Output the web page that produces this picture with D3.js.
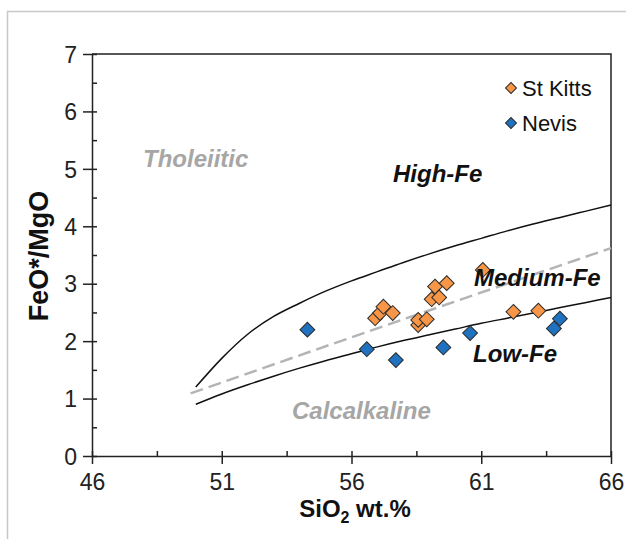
<!DOCTYPE html>
<html>
<head>
<meta charset="utf-8">
<script src="https://cdn.jsdelivr.net/npm/d3@7"></script>
<style>
  body { margin: 0; background: #fff; }
  svg { font-family: "Liberation Sans", Arial, sans-serif; }
</style>
</head>
<body>
<div id="chart"></div>
<script>
// data
var stKittsSiO2 = [56.91, 57.10, 57.23, 57.59, 58.57, 58.57, 58.90, 59.09, 59.22, 59.38, 59.67, 61.06, 62.24, 63.20];
var stKittsRatio = [2.40, 2.49, 2.60, 2.49, 2.28, 2.37, 2.38, 2.73, 2.95, 2.76, 3.01, 3.24, 2.51, 2.53];

var nevisSiO2 = [54.3, 56.59, 57.71, 59.54, 60.57, 63.80, 64.03];
var nevisRatio = [2.20, 1.86, 1.67, 1.89, 2.14, 2.22, 2.39];

// boundary curves
var curveSiO2 = [50, 51, 52, 53, 54, 55, 56, 57, 58, 59, 60, 61, 62, 63, 64, 65, 66];
var highFeBound = [1.2, 1.7, 2.12, 2.43, 2.66, 2.87, 3.05, 3.21, 3.37, 3.52, 3.66, 3.79, 3.92, 4.04, 4.15, 4.26, 4.37];
var lowFeBound = [0.9, 1.08, 1.24, 1.39, 1.53, 1.66, 1.78, 1.9, 2.01, 2.11, 2.21, 2.31, 2.4, 2.49, 2.58, 2.67, 2.76];
var thCaSiO2 = [49.8, 58, 66];
var thCaBound = [1.09, 2.38, 3.62];

var xTicks = [46, 51, 56, 61, 66];
var yTicks = [0, 1, 2, 3, 4, 5, 6, 7];

var svgWidth = 626;
var svgHeight = 539;

var svg = d3.select("#chart")
  .append("svg")
  .attr("width", svgWidth)
  .attr("height", svgHeight);

// outer frame (runs off the page at right and bottom)
svg.append("rect")
  .attr("x", 7.5)
  .attr("y", 11.5)
  .attr("width", 700)
  .attr("height", 600)
  .attr("fill", "none")
  .attr("stroke", "#c8c8c8")
  .attr("stroke-width", 1.5);

var x = d3.scaleLinear().domain([46, 66]).range([92, 611]);
var y = d3.scaleLinear().domain([0, 7]).range([456, 54]);

// minor / inner ticks
var xMinor = d3.range(46, 66.01, 2.5);
var yMinor = d3.range(0, 7.01, 0.5);

svg.append("g")
  .attr("transform", `translate(0, ${y(0)})`)
  .call(d3.axisTop(x).tickValues(xMinor).tickSize(5).tickFormat("").tickSizeOuter(0))
  .call(g => g.select(".domain").remove())
  .selectAll("line").attr("stroke", "#222").attr("stroke-width", 1.5);

svg.append("g")
  .attr("transform", `translate(${x(46)}, 0)`)
  .call(d3.axisRight(y).tickValues(yMinor).tickSize(5).tickFormat("").tickSizeOuter(0))
  .call(g => g.select(".domain").remove())
  .selectAll("line").attr("stroke", "#222").attr("stroke-width", 1.5);

// main axes
var xAxis = svg.append("g")
  .attr("transform", `translate(0, ${y(0)})`)
  .call(d3.axisBottom(x).tickValues(xTicks).tickFormat(d3.format("d"))
    .tickSize(8).tickSizeOuter(0).tickPadding(10));

var yAxis = svg.append("g")
  .attr("transform", `translate(${x(46)}, 0)`)
  .call(d3.axisLeft(y).tickValues(yTicks).tickFormat(d3.format("d"))
    .tickSize(9).tickSizeOuter(0).tickPadding(6));

[xAxis, yAxis].forEach(function(a) {
  a.select(".domain").attr("stroke", "#222").attr("stroke-width", 1.5);
  a.selectAll(".tick line").attr("stroke", "#222").attr("stroke-width", 1.5);
  a.selectAll(".tick text")
    .attr("fill", "#222")
    .style("font-size", "23px")
    .style("font-family", "'Liberation Sans', Arial, sans-serif");
});
yAxis.selectAll(".tick text").attr("dy", "0.36em");

// top and right frame of the plot
svg.append("path")
  .attr("d", `M${x(46)},${y(7)}H${x(66)}V${y(0)}`)
  .attr("fill", "none")
  .attr("stroke", "#222")
  .attr("stroke-width", 1.5);

// boundary lines
var line = d3.line()
  .x(d => x(d[0]))
  .y(d => y(d[1]))
  .curve(d3.curveMonotoneX);

svg.append("path")
  .datum(d3.zip(thCaSiO2, thCaBound))
  .attr("d", line)
  .attr("fill", "none")
  .attr("stroke", "#b4b4b4")
  .attr("stroke-width", 2.5)
  .attr("stroke-dasharray", "13,6");

svg.append("path")
  .datum(d3.zip(curveSiO2, highFeBound))
  .attr("d", line)
  .attr("fill", "none")
  .attr("stroke", "#111")
  .attr("stroke-width", 1.5);

svg.append("path")
  .datum(d3.zip(curveSiO2, lowFeBound))
  .attr("d", line)
  .attr("fill", "none")
  .attr("stroke", "#111")
  .attr("stroke-width", 1.5);

// diamond markers
var diamond = d3.symbol().type(d3.symbolSquare).size(110);

function drawPoints(xs, ys, fill) {
  svg.append("g").selectAll("path")
    .data(d3.zip(xs, ys))
    .enter()
    .append("path")
    .attr("d", diamond)
    .attr("transform", d => `translate(${x(d[0])}, ${y(d[1])}) rotate(45)`)
    .attr("fill", fill)
    .attr("stroke", "#2a2a2a")
    .attr("stroke-width", 1);
}

drawPoints(stKittsSiO2, stKittsRatio, "#f79646");
drawPoints(nevisSiO2, nevisRatio, "#1f72c0");

// field labels
function fieldLabel(text, px, py, color) {
  svg.append("text")
    .attr("x", px)
    .attr("y", py)
    .attr("fill", color)
    .style("font-size", "24px")
    .style("font-weight", "bold")
    .style("font-style", "italic")
    .text(text);
}

fieldLabel("Tholeiitic", 143, 167, "#a6a6a6");
fieldLabel("Calcalkaline", 292, 419, "#a6a6a6");
fieldLabel("High-Fe", 393, 182, "#111");
fieldLabel("Medium-Fe", 474, 286, "#111");
fieldLabel("Low-Fe", 473, 362, "#111");

// legend
var legend = svg.append("g");
var legendItems = [["St Kitts", "#f79646"], ["Nevis", "#1f72c0"]];
legendItems.forEach(function(item, i) {
  var ly = 88 + i * 35;
  legend.append("path")
    .attr("d", d3.symbol().type(d3.symbolSquare).size(60))
    .attr("transform", `translate(511, ${ly}) rotate(45)`)
    .attr("fill", item[1])
    .attr("stroke", "#2a2a2a")
    .attr("stroke-width", 1);
  legend.append("text")
    .attr("x", 522)
    .attr("y", ly)
    .attr("dy", "0.36em")
    .attr("fill", "#111")
    .style("font-size", "22px")
    .text(item[0]);
});

// axis titles
var xTitle = svg.append("text")
  .attr("x", 355)
  .attr("y", 517)
  .attr("text-anchor", "middle")
  .attr("fill", "#111")
  .style("font-size", "24px")
  .style("font-weight", "bold");
xTitle.append("tspan").text("SiO");
xTitle.append("tspan").attr("dy", 6).style("font-size", "16px").text("2");
xTitle.append("tspan").attr("dy", -6).text(" wt.%");

svg.append("text")
  .attr("transform", "translate(48, 256) rotate(-90)")
  .attr("text-anchor", "middle")
  .attr("fill", "#111")
  .style("font-size", "27px")
  .style("font-weight", "bold")
  .text("FeO*/MgO");
</script>
</body>
</html>
